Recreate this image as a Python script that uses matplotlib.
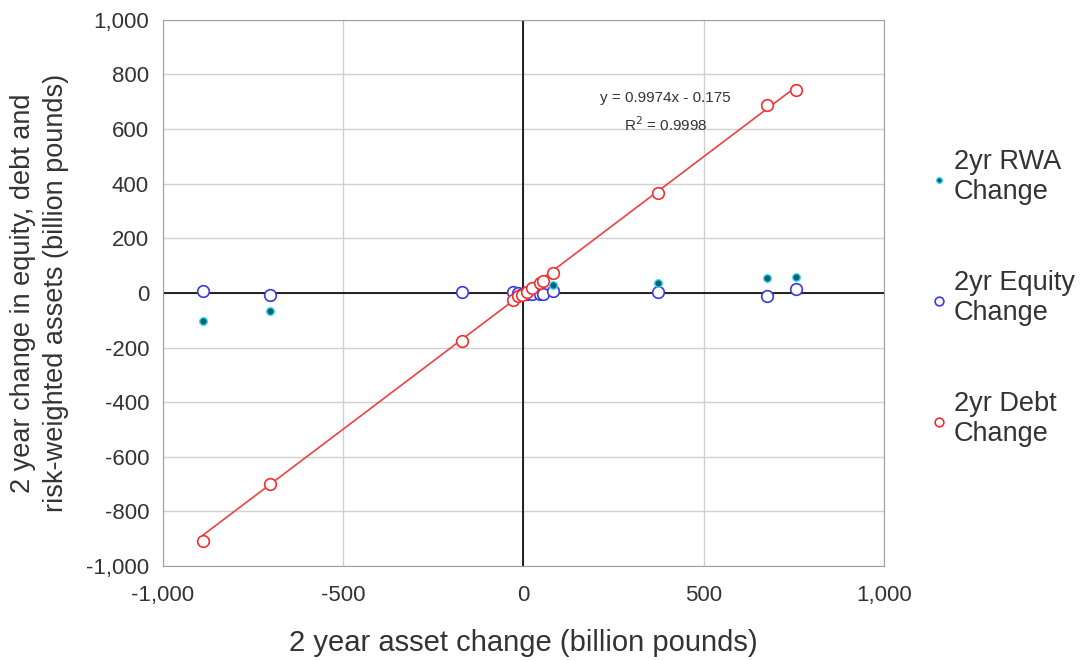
"""Scatter of 2yr changes in RWA, equity and debt vs 2yr asset change."""
import matplotlib.pyplot as plt
import numpy as np
from matplotlib.ticker import FuncFormatter

plt.rcParams["font.family"] = ["Liberation Sans", "DejaVu Sans"]

asset_change = [-889, -704, -169, -30, -15, -5, 10, 25, 45, 55, 83, 374, 676, 756]
debt_change = [-908, -700, -176, -27, -12, -6, 5, 18, 36, 45, 72, 366, 689, 744]
equity_change = [8, -8, 2, 3, 0, -3, -4, -5, -3, -5, 6, 5, -10, 14]
rwa_change = [-103, -66, None, None, None, None, None, None, None, None, 28, 36, 55, 58]

fit_slope, fit_icpt = 0.9974, -0.175

fig = plt.figure(figsize=(10.83, 6.6), dpi=100)
ax = fig.add_axes([0.1505, 0.1424, 0.6655, 0.8276])

ax.set_xlim(-1000, 1000)
ax.set_ylim(-1000, 1000)
ax.set_xticks(np.arange(-1000, 1001, 500))
ax.set_yticks(np.arange(-1000, 1001, 200))
ax.grid(color="#d0d0d0", lw=1)
ax.set_axisbelow(True)
for s in ax.spines.values():
    s.set_color("#a0a0a0")
ax.axhline(0, color="black", lw=1.2, zorder=1)
ax.axvline(0, color="black", lw=1.2, zorder=1)
ax.tick_params(length=0, labelsize=16, colors="#333333")
ax.tick_params(axis="x", pad=14)
ax.tick_params(axis="y", pad=10)
ax.xaxis.set_major_formatter(FuncFormatter(lambda v, p: f"{int(v):,}"))
ax.yaxis.set_major_formatter(FuncFormatter(lambda v, p: f"{int(v):,}"))

xs = np.array([min(asset_change), max(asset_change)])
ax.plot(xs, fit_slope * xs + fit_icpt, color="#f04040", lw=1.2, zorder=2)

rx = [a for a, r in zip(asset_change, rwa_change) if r is not None]
ry = [r for r in rwa_change if r is not None]
ax.scatter(rx, ry, s=30, color="#005f7a", edgecolors="#40d8f0", linewidths=1.0,
           zorder=4, label="2yr RWA\nChange")
ax.scatter(asset_change, equity_change, s=70, facecolors="white", edgecolors="#3a3ae0",
           linewidths=1.2, zorder=3, label="2yr Equity\nChange")
ax.scatter(asset_change, debt_change, s=70, facecolors="white", edgecolors="#f03030",
           linewidths=1.2, zorder=3, label="2yr Debt\nChange")

ax.text(395, 661, "y = 0.9974x - 0.175\nR$^2$ = 0.9998", ha="center", va="center",
        fontsize=11, color="#333333", linespacing=1.7)

ax.set_xlabel("2 year asset change (billion pounds)", fontsize=21, color="#333333",
              labelpad=16)
ax.set_ylabel("2 year change in equity, debt and\nrisk-weighted assets (billion pounds)",
              fontsize=19.5, color="#333333", labelpad=12, linespacing=1.35)

leg = ax.legend(loc="center left", bbox_to_anchor=(1.03, 0.49), frameon=False,
                fontsize=19.5, labelspacing=2.4, handletextpad=0.2, markerscale=0.75,
                handlelength=0.7)
for t in leg.get_texts():
    t.set_color("#333333")

fig.savefig("out.png", dpi=100)
